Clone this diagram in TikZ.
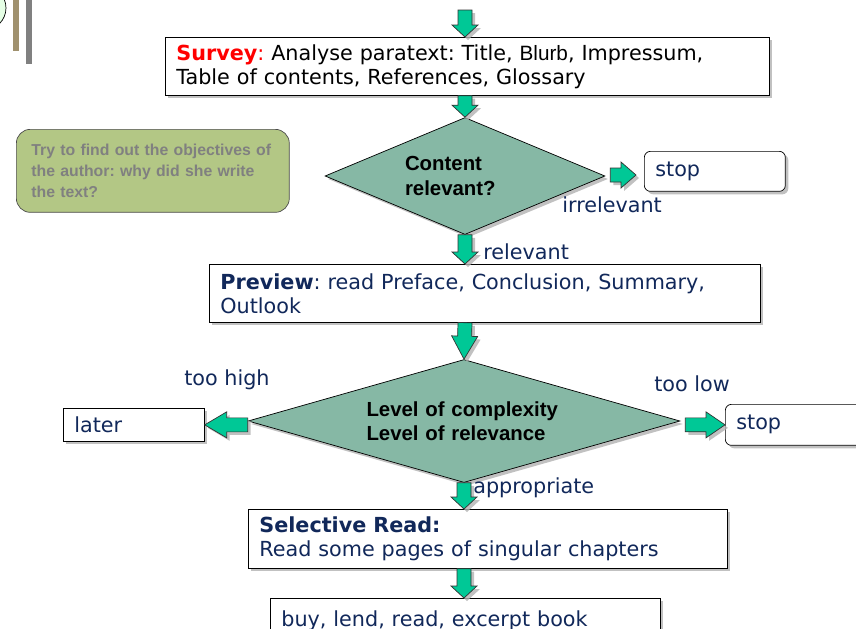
\documentclass[tikz,border=0pt]{standalone}
\usepackage{fontspec}
\setmainfont{DejaVu Sans}
\newfontfamily\arialfont{Liberation Sans}
\usetikzlibrary{shapes.geometric,shadows,calc,positioning}
\frenchspacing

\definecolor{flowgreen}{RGB}{0,200,150}
\definecolor{decgreen}{RGB}{134,184,165}
\definecolor{notegreen}{RGB}{179,199,133}
\definecolor{notegray}{RGB}{128,128,128}
\definecolor{navy}{RGB}{17,40,90}
\definecolor{bartan}{RGB}{160,145,110}

\newcommand{\boxfont}{\fontsize{11.8}{13.6}\selectfont}
\newcommand{\decfont}{\arialfont\bfseries\fontsize{11.6}{13.8}\selectfont}

\tikzset{
	shade/.style={drop shadow={shadow xshift=0.06cm, shadow yshift=-0.06cm, fill=black!30, opacity=0.8}},
	box/.style={draw, fill=white, anchor=north west, align=left, inner xsep=0.22cm, font=\boxfont, shade},
	stopbox/.style={box, rounded corners=0.12cm, text=navy},
	decision/.style={diamond, draw, fill=decgreen, align=left, inner sep=0pt, font=\decfont, shade},
	note/.style={draw=black!70, fill=notegreen, rounded corners=0.28cm, anchor=north west, align=left,
		inner xsep=0.3cm, text=notegray, font=\arialfont\bfseries\fontsize{9}{12.2}\selectfont},
	lbl/.style={anchor=west, text=navy, font=\boxfont, inner sep=0pt},
	flow/.style={draw=black!80, fill=flowgreen, line join=miter, shade}
}

% block arrow from #2 to #3, head length #1
\newcommand{\flowarrow}[3][0.24cm]{%
	\coordinate (fa-s) at (#2);
	\coordinate (fa-t) at (#3);
	\coordinate (fa-b) at ($(fa-t)!#1!(fa-s)$);
	\draw[flow] ($(fa-s)!0.14cm!90:(fa-t)$) -- ($(fa-b)!0.14cm!90:(fa-t)$) -- ($(fa-b)!0.26cm!90:(fa-t)$)
		-- (fa-t) -- ($(fa-b)!0.26cm!-90:(fa-t)$) -- ($(fa-b)!0.14cm!-90:(fa-t)$) -- ($(fa-s)!0.14cm!-90:(fa-t)$) -- cycle;
}

\begin{document}
\begin{tikzpicture}[x=0.02cm,y=-0.02cm]
	\useasboundingbox (0,0) rectangle (856,629);

	\draw[fill=green!10] (-16,8) circle (0.44cm);
	\fill[bartan] (13,0) rectangle (19,51);
	\fill[notegray] (26,0) rectangle (32,64);

	\coordinate (top) at (465,10);

	\node[box, text width=11.64cm, minimum height=1.16cm] (survey) at (165,37)
		{{\color{red}\textbf{Survey}:} Analyse paratext: Title, {\arialfont Blurb}, Impressum,\\Table of contents, References, Glossary};
	\node[decision, minimum width=5.6cm, minimum height=2.34cm, shape aspect=2.4, text width=2.4cm] (d1) at (465,176)
		{Content\\relevant?};
	\node[stopbox, text width=2.38cm, minimum height=0.8cm] (stop1) at (644,151) {stop};
	\node[note, text width=4.86cm, minimum height=1.66cm] (goal) at (16,129)
		{Try to find out the objectives of\\the author: why did she write\\the text?};
	\node[box, text=navy, text width=10.58cm, minimum height=1.16cm] (preview) at (209,264)
		{\textbf{Preview}: read Preface, Conclusion, Summary,\\Outlook};
	\node[decision, minimum width=8.64cm, minimum height=2.46cm, shape aspect=3.5, text width=3.9cm] (d2) at (464,421)
		{Level of complexity\\Level of relevance};
	\node[box, text=navy, text width=2.38cm, minimum height=0.66cm] (later) at (63,408) {later};
	\node[stopbox, text width=2.46cm, minimum height=0.82cm] (stop2) at (725,404) {stop};
	\node[box, text=navy, text width=9.14cm, minimum height=1.18cm] (selective) at (248,509)
		{\textbf{Selective Read:}\\Read some pages of singular chapters};
	\node[box, text=navy, text width=7.36cm, minimum height=0.9cm] (final) at (270,598)
		{buy, lend, read, excerpt book};

	\node[lbl] (irrel) at (562,205) {irrelevant};
	\node[lbl] (rel) at (483,252) {relevant};
	\node[lbl] (high) at (184,380) {too high};
	\node[lbl] (low) at (654,384) {too low};
	\node[lbl] (appr) at (473,488) {appropriate};

	\flowarrow{top}{top |- survey.north}
	\flowarrow{d1.north |- survey.south}{d1.north}
	\flowarrow[0.3cm]{$(d1.east)+(5,-1)$}{$(stop1.west |- d1.east)+(-8,-1)$}
	\flowarrow{d1.south}{d1.south |- preview.north}
	\flowarrow[0.46cm]{d1.south |- preview.south}{d2.north}
	\flowarrow[0.44cm]{d2.west |- later.east}{later.east}
	\flowarrow[0.38cm]{$(d2.east |- stop2.west)+(5,0)$}{stop2.west}
	\flowarrow{d2.south}{d2.south |- selective.north}
	\flowarrow{d2.south |- selective.south}{d2.south |- final.north}
\end{tikzpicture}
\end{document}
